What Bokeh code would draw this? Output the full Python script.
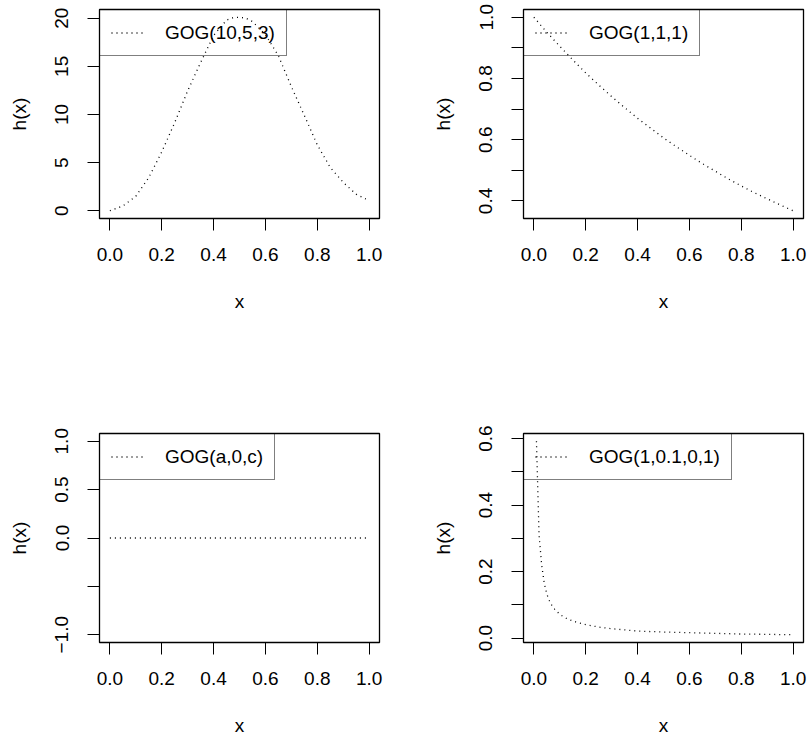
from bokeh.plotting import figure
from bokeh.models import Range1d, FixedTicker, Legend, LegendItem
from bokeh.layouts import gridplot
from bokeh.embed import file_html
from bokeh.resources import INLINE

FONT = "Liberation Sans"
FS = "19px"

# shared x axis
x_limits = (0.0, 1.0)
x_ticks = [0.0, 0.2, 0.4, 0.6, 0.8, 1.0]
x_tick_labels = ["0.0", "0.2", "0.4", "0.6", "0.8", "1.0"]
x_title = "x"
y_title = "h(x)"

# panel 1: GOG(10,5,3)
p1_label = "GOG(10,5,3)"
p1_x = [0.0, 0.05, 0.1, 0.15, 0.2, 0.25, 0.3, 0.35, 0.4, 0.45, 0.475, 0.5,
        0.525, 0.55, 0.6, 0.65, 0.7, 0.75, 0.8, 0.85, 0.9, 0.95, 1.0]
p1_y = [0.0, 0.5, 1.5, 3.45, 6.1, 9.15, 12.45, 15.4, 18.2, 19.8, 20.05, 20.1,
        20.0, 19.65, 18.3, 16.1, 12.9, 9.9, 6.85, 4.5, 2.95, 1.72, 1.05]
p1_yticks = [0.0, 5.0, 10.0, 15.0, 20.0]
p1_ylabels = ["0", "5", "10", "15", "20"]

# panel 2: GOG(1,1,1)
p2_label = "GOG(1,1,1)"
p2_x = [0.0, 0.05, 0.1, 0.15, 0.2, 0.25, 0.3, 0.35, 0.4, 0.45, 0.5,
        0.55, 0.6, 0.65, 0.7, 0.75, 0.8, 0.85, 0.9, 0.95, 1.0]
p2_y = [1.0, 0.951, 0.905, 0.861, 0.818, 0.779, 0.741, 0.705, 0.670, 0.638, 0.606,
        0.577, 0.549, 0.522, 0.497, 0.472, 0.449, 0.427, 0.407, 0.387, 0.368]
p2_yticks = [0.4, 0.5, 0.6, 0.7, 0.8, 0.9, 1.0]
p2_ylabels = ["0.4", "", "0.6", "", "0.8", "", "1.0"]

# panel 3: GOG(a,0,c)
p3_label = "GOG(a,0,c)"
p3_x = [0.0, 0.1, 0.2, 0.3, 0.4, 0.5, 0.6, 0.7, 0.8, 0.9, 1.0]
p3_y = [0.0, 0.0, 0.0, 0.0, 0.0, 0.0, 0.0, 0.0, 0.0, 0.0, 0.0]
p3_ylimits = (-1.0, 1.0)
p3_yticks = [-1.0, -0.5, 0.0, 0.5, 1.0]
p3_ylabels = ["\u22121.0", "", "0.0", "0.5", "1.0"]

# panel 4: GOG(1,0.1,0,1)
p4_label = "GOG(1,0.1,0,1)"
p4_x = [0.01, 0.02, 0.03, 0.04, 0.05, 0.06, 0.07, 0.08, 0.1, 0.12, 0.15, 0.2,
        0.25, 0.3, 0.4, 0.5, 0.6, 0.7, 0.8, 0.9, 1.0]
p4_y = [0.592, 0.31, 0.22, 0.165, 0.132, 0.112, 0.097, 0.087, 0.071, 0.061, 0.051, 0.040,
        0.033, 0.028, 0.021, 0.018, 0.016, 0.014, 0.012, 0.011, 0.0098]
p4_yticks = [0.0, 0.1, 0.2, 0.3, 0.4, 0.5, 0.6]
p4_ylabels = ["0.0", "", "0.2", "", "0.4", "", "0.6"]


def padded(lo, hi, frac=0.04):
    span = hi - lo
    return lo - frac * span, hi + frac * span


def style_axis(ax, ticks, labels, standoff, title_standoff, vertical=False):
    ax.ticker = FixedTicker(ticks=ticks)
    ax.major_label_overrides = {float(t): l for t, l in zip(ticks, labels)}
    ax.axis_line_color = None
    ax.major_tick_line_color = "black"
    ax.major_tick_line_width = 1
    ax.major_tick_in = 0
    ax.major_tick_out = 12
    ax.minor_tick_line_color = None
    ax.major_label_text_font = FONT
    ax.major_label_text_font_size = FS
    ax.major_label_text_color = "black"
    ax.major_label_standoff = standoff
    ax.axis_label_text_font = FONT
    ax.axis_label_text_font_size = FS
    ax.axis_label_text_font_style = "normal"
    ax.axis_label_text_color = "black"
    ax.axis_label_standoff = title_standoff
    if vertical:
        ax.major_label_orientation = "vertical"


def panel(x, y, label, yticks, ylabels, ylim, width, height, borders):
    left, right, top, bottom = borders
    p = figure(width=width, height=height, output_backend="svg", toolbar_location=None,
               x_range=Range1d(*padded(*x_limits)), y_range=Range1d(*padded(*ylim)),
               min_border_left=left, min_border_right=right,
               min_border_top=top, min_border_bottom=bottom,
               x_axis_label=x_title, y_axis_label=y_title)
    p.background_fill_color = "white"
    p.border_fill_color = "white"
    p.outline_line_color = "black"
    p.outline_line_width = 1.3
    p.xgrid.grid_line_color = None
    p.ygrid.grid_line_color = None
    style_axis(p.xaxis[0], x_ticks, x_tick_labels, 17, 27)
    style_axis(p.yaxis[0], yticks, ylabels, 19, 23, vertical=True)
    r = p.line(x, y, line_color="black", line_width=1.3, line_dash="1 4")
    leg = Legend(items=[LegendItem(label=label, renderers=[r])], location="top_left",
                 margin=0, padding=11, spacing=0, glyph_width=32, glyph_height=23,
                 label_height=23, label_standoff=22,
                 label_text_font=FONT, label_text_font_size=FS, label_text_color="black",
                 border_line_color="black", border_line_width=1.3,
                 background_fill_alpha=0.0)
    p.add_layout(leg)
    return p


p1 = panel(p1_x, p1_y, p1_label, p1_yticks, p1_ylabels, (min(p1_y), max(p1_y)),
           405, 370, (99, 26, 9, 152))
p2 = panel(p2_x, p2_y, p2_label, p2_yticks, p2_ylabels, (min(p2_y), max(p2_y)),
           405, 370, (118, 7, 9, 152))
p3 = panel(p3_x, p3_y, p3_label, p3_yticks, p3_ylabels, p3_ylimits,
           405, 369, (99, 26, 63, 97))
p4 = panel(p4_x, p4_y, p4_label, p4_yticks, p4_ylabels, (min(p4_y), max(p4_y)),
           405, 369, (118, 7, 63, 97))

grid = gridplot([[p1, p2], [p3, p4]], toolbar_location=None)

open("out.html", "w").write(file_html(grid, INLINE))
